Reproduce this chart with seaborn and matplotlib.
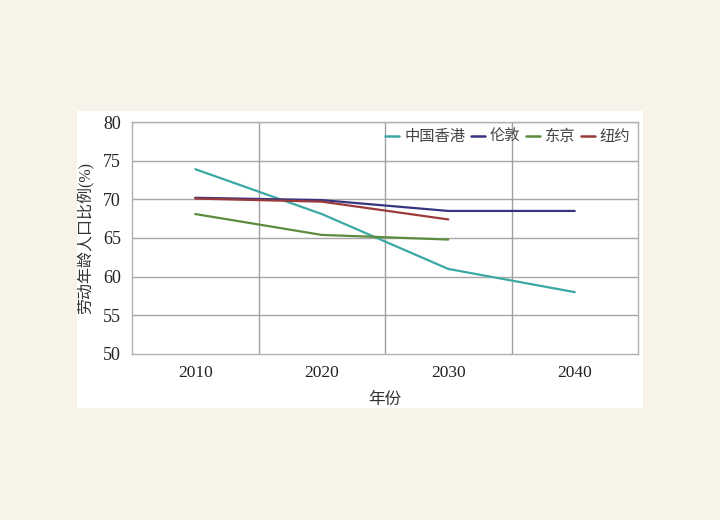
import matplotlib
matplotlib.use("Agg")
import matplotlib.pyplot as plt
import seaborn as sns
import pandas as pd
from matplotlib.patches import Rectangle

years = ["2010", "2020", "2030", "2040"]
hongkong = [73.9, 68.1, 61.0, 58.0]
london = [70.2, 69.9, 68.5, 68.5]
tokyo = [68.1, 65.4, 64.8]
newyork = [70.1, 69.7, 67.4]
series_names = ["中国香港", "伦敦", "东京", "纽约"]
series_vals = [hongkong, london, tokyo, newyork]
colors = ["#3aa9a4", "#38357f", "#5b8c3e", "#9b3a3a"]
yticks = [50, 55, 60, 65, 70, 75, 80]

rows = []
for name, vals in zip(series_names, series_vals):
    for i, v in enumerate(vals):
        rows.append({"pos": i, "year": years[i], "value": v, "city": name})
df = pd.DataFrame(rows)

sns.set_theme(style="white")
plt.rcParams['font.family'] = ['Liberation Serif', 'Noto Sans CJK SC', 'DejaVu Sans']
plt.rcParams['axes.unicode_minus'] = False

fig = plt.figure(figsize=(7.2, 5.2), dpi=100)
fig.patch.set_facecolor("#f7f3e9")
bg = fig.add_axes([0, 0, 1, 1], zorder=-10)
bg.set_axis_off()
bg.set_xlim(0, 720)
bg.set_ylim(520, 0)
bg.add_patch(Rectangle((77, 111), 643 - 77, 408 - 111, facecolor="white", edgecolor="none"))

ax = fig.add_axes([132/720, 1-354/520, (638-132)/720, (354-122)/520], zorder=1)
ax.set_facecolor("white")

sns.lineplot(data=df, x="pos", y="value", hue="city", hue_order=series_names,
             palette=colors, linewidth=1.6, ax=ax, legend=True)

ax.set_xlim(-0.5, 3.5)
ax.set_ylim(50, 80)
ax.set_xticks(range(len(years)))
ax.set_xticklabels(years, fontsize=12.5)
ax.set_yticks(yticks)
ax.set_yticklabels([str(t) for t in yticks], fontsize=13)
ax.tick_params(axis="both", which="both", length=0, pad=8, colors="#222222")
ax.grid(False)
for t in yticks[1:]:
    ax.axhline(t, color="#a8a8a8", linewidth=1.0, zorder=0.5)
for x in [0.5, 1.5, 2.5]:
    ax.axvline(x, color="#a0a0a0", linewidth=1.0, zorder=0.5)
for s in ax.spines.values():
    s.set_color("#b0b0b0")
    s.set_linewidth(1.0)

ax.set_xlabel("年份", fontsize=12, color="#333333", labelpad=8)
ax.set_ylabel("劳动年龄人口比例(%)", fontsize=11.5, color="#333333", labelpad=7)

leg = ax.legend(loc="upper right", ncol=4, frameon=False, fontsize=11,
                handlelength=0.9, handletextpad=0.35, columnspacing=0.35,
                borderaxespad=0.1, bbox_to_anchor=(1.0, 1.0))
for h in leg.get_lines():
    h.set_linewidth(1.8)
for txt in leg.get_texts():
    txt.set_color("#444444")

fig.savefig("out.png", dpi=100, facecolor=fig.get_facecolor())
